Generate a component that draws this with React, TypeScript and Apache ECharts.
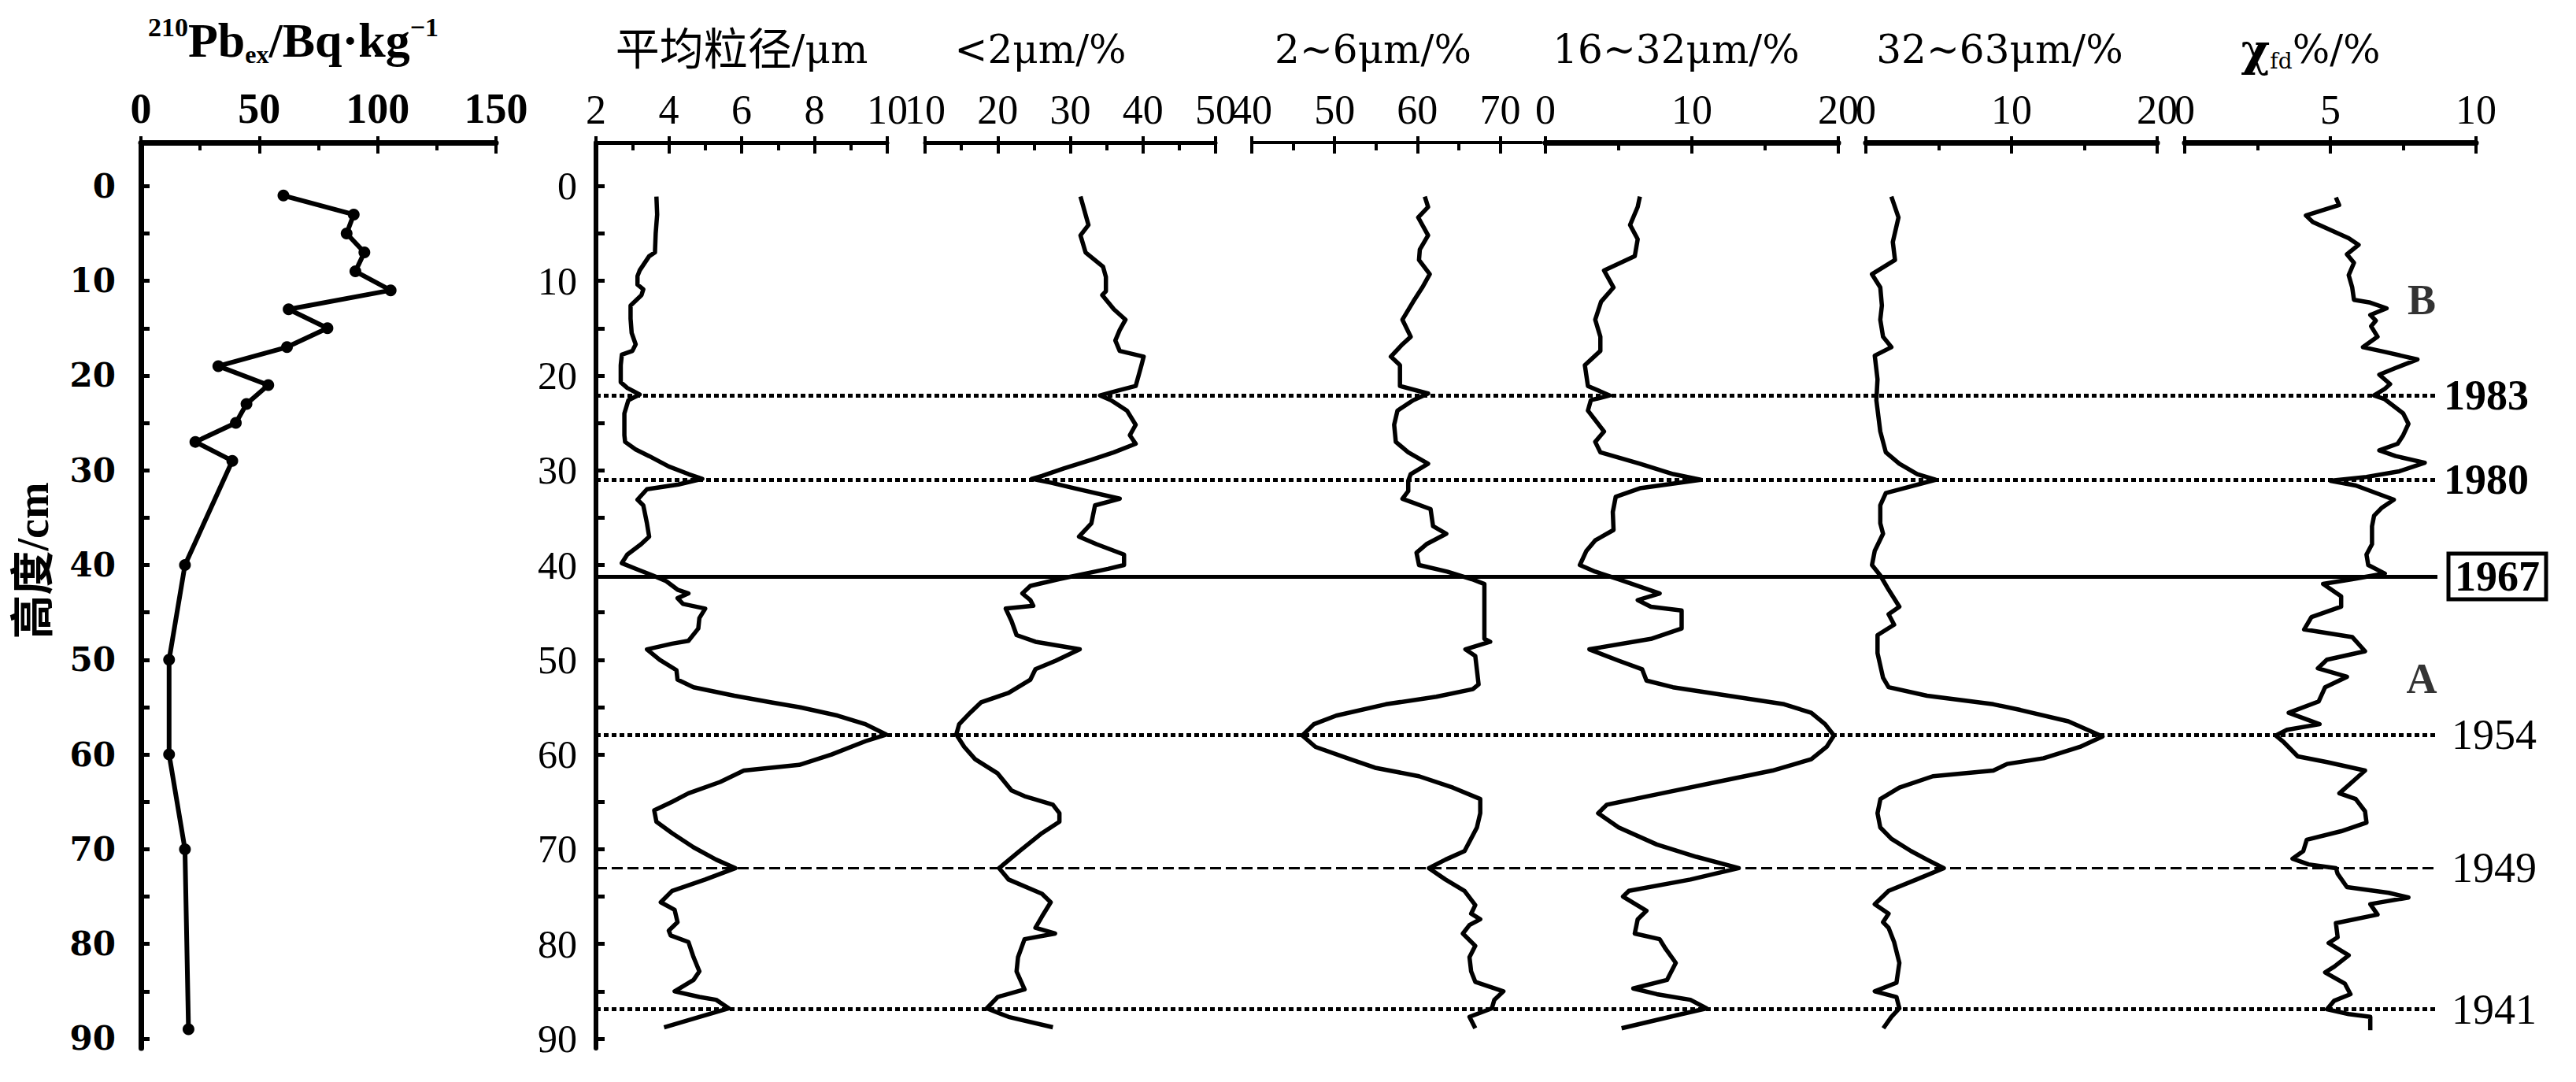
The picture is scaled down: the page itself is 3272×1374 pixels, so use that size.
import React, { useEffect, useRef } from "react";
import * as echarts from "echarts";

const SERIF = "'Liberation Serif', 'Noto Sans CJK SC', serif";
const WIDE_SERIF = "'DejaVu Serif', 'Noto Sans CJK SC', serif";

// ---------- depth axis ----------
const depthTickValues = [0, 5, 10, 15, 20, 25, 30, 35, 40, 45, 50, 55, 60, 65, 70, 75, 80, 85, 90];
const depthLabelValues = [0, 10, 20, 30, 40, 50, 60, 70, 80, 90];

// ---------- 210Pb_ex ----------
const pbDepth = [1, 3, 5, 7, 9, 11, 13, 15, 17, 19, 21, 23, 25, 27, 29, 40, 50, 60, 70, 89];
const pbValue = [60.2, 89.9, 86.9, 94.4, 90.6, 105.5, 62.4, 78.8, 61.7, 32.7, 53.8, 44.6, 40.1, 23.0, 38.6, 18.6, 11.9, 11.9, 18.6, 20.1];
const pbTicks = [0, 50, 100, 150];
const pbMinor = [25, 75, 125];

// ---------- mean grain size (um) ----------
const mgDepth = [1.1, 3.0, 5.0, 7.0, 7.4, 8.9, 9.5, 10.4, 10.9, 11.5, 12.6, 14.0, 15.5, 16.7, 17.4, 17.8, 18.9, 20.7, 21.3, 22.0, 22.6, 24.0, 26.3, 27.0, 27.8, 28.5, 29.6, 30.4, 30.9, 31.5, 32.0, 33.1, 33.7, 35.6, 37.0, 37.8, 38.9, 39.8, 40.4, 41.1, 41.7, 42.6, 43.0, 43.5, 44.1, 44.6, 45.6, 46.7, 48.0, 48.3, 48.9, 50.0, 51.1, 52.1, 52.9, 53.8, 54.5, 55.0, 55.9, 56.8, 57.9, 58.6, 60.0, 61.1, 61.7, 62.9, 64.1, 65.0, 65.9, 67.1, 68.3, 69.8, 71.1, 72.0, 73.2, 74.4, 75.6, 76.4, 77.7, 78.6, 79.1, 79.8, 81.4, 82.9, 83.8, 85.0, 85.6, 85.9, 86.8, 87.7, 88.8];
const mgValue = [3.66, 3.68, 3.64, 3.62, 3.46, 3.2, 3.14, 3.14, 3.3, 3.25, 2.95, 2.95, 2.98, 3.09, 3.0, 2.71, 2.68, 2.68, 2.86, 3.2, 2.89, 2.78, 2.78, 2.8, 3.09, 3.46, 4.0, 4.54, 4.92, 4.26, 3.4, 3.14, 3.3, 3.4, 3.46, 3.24, 2.86, 2.71, 3.09, 3.56, 3.93, 4.24, 4.54, 4.24, 4.39, 5.0, 4.84, 4.81, 4.54, 4.09, 3.4, 3.75, 4.21, 4.24, 4.68, 5.8, 6.82, 7.58, 8.64, 9.4, 9.97, 9.4, 8.47, 7.58, 6.06, 5.41, 4.54, 4.09, 3.6, 3.66, 4.09, 4.68, 5.3, 5.83, 5.0, 4.09, 3.78, 4.16, 4.24, 4.0, 4.05, 4.54, 4.68, 4.84, 4.68, 4.16, 4.84, 5.3, 5.65, 4.84, 3.87];
const mgTicks = [2, 4, 6, 8, 10];
const mgMinor = [3, 5, 7, 9];

// ---------- <2 um (%) ----------
const clayDepth = [1.1, 4.1, 5.2, 7.0, 8.5, 9.6, 11.1, 11.5, 13.0, 14.1, 15.2, 16.3, 17.4, 18.0, 18.9, 21.1, 21.6, 22.1, 22.6, 23.7, 25.2, 26.3, 27.2, 28.1, 28.9, 29.8, 30.6, 30.9, 31.3, 31.9, 33.0, 33.7, 35.6, 37.0, 37.8, 38.9, 40.0, 40.4, 40.9, 41.5, 42.2, 43.0, 43.7, 44.3, 44.6, 45.9, 47.4, 48.1, 48.9, 50.1, 51.0, 52.1, 53.5, 54.5, 55.6, 56.8, 57.9, 59.2, 60.5, 62.0, 63.8, 64.4, 65.3, 66.2, 67.1, 68.3, 70.2, 72.0, 73.2, 74.7, 75.6, 77.1, 78.3, 78.9, 79.5, 81.4, 82.9, 84.8, 85.6, 86.8, 87.7, 88.8];
const clayValue = [31.4, 32.5, 31.4, 32.1, 34.5, 34.9, 34.9, 34.4, 36.0, 37.6, 36.8, 36.2, 36.8, 40.1, 39.8, 39.0, 36.5, 34.1, 35.6, 37.8, 39.0, 38.2, 39.0, 36.0, 32.9, 29.1, 26.1, 24.7, 27.3, 30.6, 36.8, 33.4, 32.9, 31.2, 33.6, 37.4, 37.4, 35.2, 32.1, 28.4, 24.5, 23.4, 24.5, 24.9, 21.1, 21.9, 22.6, 25.2, 31.3, 28.0, 25.2, 24.5, 21.5, 17.7, 16.2, 14.7, 14.3, 15.4, 16.9, 20.0, 21.9, 23.7, 27.6, 28.5, 28.5, 26.1, 23.0, 20.2, 21.5, 26.1, 27.3, 26.1, 25.2, 27.9, 23.7, 22.8, 22.6, 23.7, 20.0, 18.5, 21.5, 27.6];
const clayTicks = [10, 20, 30, 40, 50];
const clayMinor = [15, 25, 35, 45];

// ---------- 2~6 um (%) ----------
const fsDepth = [1.1, 2.2, 3.3, 5.2, 6.7, 7.8, 9.3, 10.7, 12.2, 14.1, 15.9, 16.7, 18.0, 18.9, 21.1, 21.9, 22.6, 23.7, 25.2, 27.0, 28.1, 29.3, 30.4, 31.1, 32.2, 33.0, 34.1, 35.9, 36.7, 37.8, 38.7, 40.0, 40.7, 41.5, 42.0, 44.8, 47.8, 48.1, 48.9, 49.6, 51.1, 52.6, 53.1, 53.9, 54.7, 55.9, 56.8, 58.0, 59.2, 60.5, 61.4, 62.3, 63.5, 64.7, 66.2, 67.7, 70.2, 71.1, 72.0, 73.2, 74.4, 75.9, 76.8, 77.4, 78.0, 78.9, 80.2, 81.4, 82.9, 84.0, 85.0, 85.9, 86.8, 87.7, 88.9];
const fsValue = [60.9, 61.3, 60.1, 61.3, 60.3, 60.2, 61.5, 60.6, 59.5, 58.2, 59.2, 58.2, 56.8, 57.9, 57.9, 61.3, 59.5, 57.6, 57.2, 57.4, 58.9, 61.3, 59.2, 58.9, 58.9, 58.2, 61.6, 61.9, 63.5, 61.1, 59.9, 60.2, 63.6, 66.6, 68.1, 68.1, 68.1, 68.8, 65.8, 67.0, 67.2, 67.4, 66.7, 62.3, 56.2, 50.2, 47.5, 46.1, 47.7, 51.9, 54.9, 60.2, 64.3, 67.6, 67.6, 67.2, 65.7, 63.4, 61.4, 63.4, 65.7, 67.0, 66.5, 67.6, 66.3, 65.5, 67.0, 66.3, 66.5, 67.0, 70.4, 69.3, 69.0, 66.3, 67.0];
const fsTicks = [40, 50, 60, 70];
const fsMinor = [45, 55, 65];

// ---------- 16~32 um (%) ----------
const msDepth = [1.1, 2.2, 4.1, 5.6, 7.4, 8.9, 10.7, 12.2, 14.1, 15.9, 17.4, 18.9, 21.1, 22.1, 22.6, 23.7, 25.9, 27.0, 28.1, 29.3, 30.4, 31.0, 31.9, 32.8, 34.4, 36.3, 37.4, 38.5, 40.0, 40.7, 41.5, 43.0, 43.7, 44.4, 44.8, 46.7, 47.8, 48.9, 50.1, 51.0, 52.2, 52.9, 53.8, 54.7, 55.6, 56.8, 58.0, 59.2, 60.5, 61.7, 62.9, 64.1, 65.3, 66.2, 67.7, 69.5, 70.8, 72.0, 73.2, 74.4, 75.0, 76.5, 77.4, 78.9, 79.5, 80.5, 82.0, 83.8, 84.7, 85.3, 85.9, 86.8, 87.4, 88.9];
const msValue = [6.45, 6.3, 5.78, 6.3, 6.1, 4.0, 4.65, 3.8, 3.4, 3.75, 3.75, 2.69, 2.9, 4.39, 3.1, 2.9, 4.0, 3.4, 3.75, 6.45, 8.72, 10.6, 6.45, 4.8, 4.6, 4.65, 3.4, 2.8, 2.35, 3.4, 5.0, 7.8, 6.3, 7.2, 9.3, 9.3, 7.2, 3.0, 5.0, 6.6, 6.9, 8.7, 12.5, 16.3, 18.15, 19.1, 19.7, 19.2, 18.15, 15.5, 11.7, 7.96, 4.2, 3.6, 5.0, 7.6, 10.3, 13.2, 9.9, 5.7, 5.3, 6.9, 6.3, 6.1, 7.8, 8.2, 8.9, 8.3, 6.0, 7.6, 9.9, 11.0, 9.3, 5.2];
const msTicks = [0, 10, 20];
const msMinor = [5, 15];

// ---------- 32~63 um (%) ----------
const csDepth = [1.1, 3.3, 5.9, 7.8, 9.3, 10.7, 12.6, 14.1, 15.9, 17.0, 17.9, 20.4, 22.6, 25.9, 28.1, 29.3, 30.4, 31.0, 31.7, 32.4, 33.7, 35.6, 36.7, 38.5, 40.0, 41.1, 42.6, 44.4, 45.2, 46.3, 47.4, 49.3, 51.9, 52.9, 53.8, 54.7, 55.3, 56.5, 58.1, 59.2, 60.4, 61.0, 61.7, 62.3, 63.5, 64.7, 66.2, 67.7, 68.9, 70.2, 71.1, 72.0, 73.2, 74.4, 75.8, 76.8, 77.7, 78.3, 79.8, 82.0, 84.1, 85.0, 85.6, 86.8, 87.7, 88.9];
const csValue = [1.75, 2.24, 1.85, 2.0, 0.42, 0.99, 1.1, 0.99, 1.18, 1.75, 0.61, 0.8, 0.72, 0.99, 1.37, 2.3, 3.53, 4.78, 3.1, 1.37, 0.99, 0.99, 1.18, 0.61, 0.42, 0.99, 1.56, 2.3, 1.56, 1.94, 0.8, 0.8, 1.18, 1.56, 4.2, 8.75, 10.6, 13.9, 16.25, 14.7, 12.2, 9.7, 8.75, 4.6, 2.3, 1.0, 0.8, 0.99, 1.75, 3.1, 4.2, 5.35, 3.47, 1.56, 0.61, 1.56, 1.18, 1.56, 1.94, 2.3, 2.1, 0.61, 2.1, 2.3, 1.75, 1.2];
const csTicks = [0, 10, 20];
const csMinor = [5, 15];

// ---------- chi_fd % ----------
const chiDepth = [1.2, 2.0, 3.1, 3.8, 5.5, 6.2, 7.2, 8.1, 9.4, 10.7, 12.0, 12.3, 12.9, 13.6, 14.2, 14.8, 15.9, 17.0, 17.5, 18.3, 19.2, 19.9, 20.9, 21.4, 22.1, 22.5, 24.0, 25.1, 26.3, 27.2, 27.9, 28.5, 29.2, 30.1, 30.7, 31.1, 31.6, 33.1, 34.0, 34.8, 35.9, 37.8, 38.9, 40.0, 40.9, 41.5, 42.0, 43.3, 44.4, 45.5, 46.8, 47.6, 49.1, 50.0, 50.9, 51.8, 52.9, 54.4, 55.6, 56.8, 57.4, 58.0, 58.7, 60.2, 60.8, 61.7, 62.9, 64.1, 64.7, 66.0, 67.2, 68.1, 69.0, 70.2, 71.0, 71.6, 72.0, 72.6, 74.0, 74.6, 75.1, 75.8, 76.9, 77.8, 79.3, 79.9, 81.2, 82.4, 83.0, 84.2, 85.3, 86.0, 86.9, 87.4, 87.7, 89.1];
const chiValue = [5.19, 5.3, 4.16, 4.4, 5.63, 5.97, 5.57, 5.81, 5.63, 5.75, 5.81, 6.37, 6.93, 6.37, 6.56, 6.4, 6.62, 6.12, 6.87, 7.99, 7.24, 6.68, 7.05, 6.87, 6.5, 6.87, 7.5, 7.68, 7.5, 7.31, 6.68, 7.24, 8.24, 7.37, 6.24, 5.0, 5.87, 7.18, 6.75, 6.5, 6.43, 6.43, 6.24, 6.3, 6.87, 5.75, 4.75, 5.37, 5.37, 4.35, 4.1, 5.75, 6.19, 4.88, 4.57, 5.57, 4.82, 4.6, 3.57, 4.63, 3.51, 3.13, 3.4, 3.88, 4.88, 6.19, 5.75, 5.31, 5.87, 6.19, 6.24, 5.37, 4.19, 4.07, 3.7, 4.25, 5.19, 5.25, 5.57, 7.0, 7.68, 6.37, 6.62, 5.19, 5.25, 4.94, 5.63, 5.13, 4.82, 5.5, 5.69, 5.13, 4.88, 5.63, 6.37, 6.37];
const chiTicks = [0, 5, 10];
const chiMinor = [2.5, 7.5];

// ---------- dated horizons and zones ----------
const eventDepths = [22.1, 31.0, 41.2, 57.9, 72.0, 86.9];
const eventYears = ["1983", "1980", "1967", "1954", "1949", "1941"];
const zoneNames = ["B", "A"];
const zoneDepths = [12.0, 52.0];

// ---------- layout ----------
const TOP = 181;
const HEIGHT = 1150;
const DMIN = -4.6;
const DMAX = 91;

type Panel = {
  left: number; width: number; min: number; max: number;
  ticks: number[]; minor: number[]; depths: number[]; values: number[];
  name: string; namePad: number[]; axisWidth: number; boldLabels?: boolean; markers?: boolean;
};

const panels: Panel[] = [
  { left: 179, width: 451, min: 0, max: 150, ticks: pbTicks, minor: pbMinor, depths: pbDepth, values: pbValue,
    name: "{s|210}{b|Pb}{u|ex}{b|/Bq·kg}{s|−1}", namePad: [0, 64, 0, 0], axisWidth: 7, boldLabels: true, markers: true },
  { left: 757, width: 370, min: 2, max: 10, ticks: mgTicks, minor: mgMinor, depths: mgDepth, values: mgValue,
    name: "{k|平均粒径}{t|/μm}", namePad: [0, 0, 0, 0], axisWidth: 5 },
  { left: 1175, width: 369, min: 10, max: 50, ticks: clayTicks, minor: clayMinor, depths: clayDepth, values: clayValue,
    name: "{t|<2μm/%}", namePad: [0, 76, 0, 0], axisWidth: 5 },
  { left: 1590, width: 368, min: 40, max: 75, ticks: fsTicks, minor: fsMinor, depths: fsDepth, values: fsValue,
    name: "{t|2~6μm/%}", namePad: [0, 60, 0, 0], axisWidth: 4 },
  { left: 1963, width: 372, min: 0, max: 20, ticks: msTicks, minor: msMinor, depths: msDepth, values: msValue,
    name: "{t|16~32μm/%}", namePad: [0, 40, 0, 0], axisWidth: 7 },
  { left: 2370, width: 370, min: 0, max: 20, ticks: csTicks, minor: csMinor, depths: csDepth, values: csValue,
    name: "{t|32~63μm/%}", namePad: [0, 30, 0, 0], axisWidth: 7 },
  { left: 2775, width: 370, min: 0, max: 10, ticks: chiTicks, minor: chiMinor, depths: chiDepth, values: chiValue,
    name: "{c|χ}{u2|fd}{t|%/%}", namePad: [0, 50, 0, 0], axisWidth: 7 },
];

const OVERLAY_LEFT = 757;
const OVERLAY_RIGHT = 3096;

const richStyles = {
  b: { fontSize: 62, fontWeight: "bold", fontFamily: SERIF, color: "#000", lineHeight: 68, verticalAlign: "middle" },
  s: { fontSize: 34, fontWeight: "bold", fontFamily: SERIF, color: "#000", lineHeight: 44, verticalAlign: "top" },
  u: { fontSize: 32, fontWeight: "bold", fontFamily: SERIF, color: "#000", lineHeight: 18, verticalAlign: "bottom" },
  t: { fontSize: 50, fontFamily: WIDE_SERIF, color: "#000", lineHeight: 56, verticalAlign: "middle" },
  k: { fontSize: 56, fontFamily: SERIF, color: "#000", lineHeight: 56, verticalAlign: "middle" },
  c: { fontSize: 56, fontWeight: "bold", fontFamily: WIDE_SERIF, color: "#000", lineHeight: 56, verticalAlign: "middle" },
  u2: { fontSize: 28, fontFamily: WIDE_SERIF, color: "#000", lineHeight: 8, verticalAlign: "bottom" },
};

function buildOption() {
  const grids: any[] = [];
  const xAxes: any[] = [];
  const yAxes: any[] = [];
  const series: any[] = [];

  panels.forEach((p, i) => {
    grids.push({ left: p.left, top: TOP, width: p.width, height: HEIGHT, outerBoundsMode: "none", containLabel: false });
    const common = { type: "value", gridIndex: i, position: "top", min: p.min, max: p.max, splitLine: { show: false } };
    xAxes.push({
      ...common,
      axisLine: { show: true, onZero: false, lineStyle: { color: "#000", width: p.axisWidth } },
      axisTick: { show: true, inside: true, length: 14, customValues: p.ticks, lineStyle: { color: "#000", width: 4 } },
      axisLabel: {
        show: true, customValues: p.ticks, margin: 16, hideOverlap: false,
        color: "#000", fontSize: p.boldLabels ? 54 : 52, fontFamily: SERIF, fontWeight: p.boldLabels ? "bold" : "normal",
        formatter: (v: number) => String(v),
      },
      name: p.name, nameLocation: "middle", nameGap: i === 0 ? 96 : 90,
      nameTextStyle: { rich: richStyles, padding: p.namePad, color: "#000" },
    });
    xAxes.push({
      ...common,
      axisLine: { show: false, onZero: false },
      axisTick: { show: true, inside: true, length: 10, customValues: p.minor, lineStyle: { color: "#000", width: 4 } },
      axisLabel: { show: false },
    });
    xAxes.push({
      ...common,
      axisLine: { show: false, onZero: false },
      axisTick: { show: true, inside: false, length: 8, customValues: p.ticks, lineStyle: { color: "#000", width: 4 } },
      axisLabel: { show: false },
    });

    const showY = i <= 1;
    yAxes.push({
      type: "value", gridIndex: i, inverse: true, min: DMIN, max: DMAX, position: "left", show: showY,
      splitLine: { show: false },
      axisLine: { show: true, onZero: false, lineStyle: { color: "#000", width: i === 0 ? 7 : 6 } },
      axisTick: { show: true, inside: true, length: 11, customValues: depthTickValues, lineStyle: { color: "#000", width: 5 } },
      axisLabel: {
        show: true, customValues: depthLabelValues, margin: i === 0 ? 32 : 24, hideOverlap: false, color: "#000",
        fontSize: i === 0 ? 42 : 50, fontWeight: i === 0 ? "bold" : "normal", fontFamily: i === 0 ? WIDE_SERIF : SERIF,
        formatter: (v: number) => String(v),
      },
    });

    series.push({
      type: "line", xAxisIndex: 3 * i, yAxisIndex: i,
      data: p.values.map((v, k) => [v, p.depths[k]]),
      showSymbol: !!p.markers, symbol: "circle", symbolSize: p.markers ? 15 : 0,
      lineStyle: { color: "#000", width: p.markers ? 6 : 5.5, join: "round" },
      itemStyle: { color: "#000" },
      silent: true, clip: false,
    });
  });

  // overlay grid for horizons
  const gi = panels.length;
  grids.push({ left: OVERLAY_LEFT, top: TOP, width: OVERLAY_RIGHT - OVERLAY_LEFT, height: HEIGHT, outerBoundsMode: "none", containLabel: false });
  xAxes.push({ type: "value", gridIndex: gi, min: 0, max: 1, show: false, axisLine: { onZero: false } });
  yAxes.push({ type: "value", gridIndex: gi, inverse: true, min: DMIN, max: DMAX, show: false, axisLine: { onZero: false } });

  const dotted = { color: "#000", width: 5, type: [6, 4] };
  const lineStyles = [dotted, dotted, { color: "#000", width: 5, type: "solid" }, dotted, { color: "#000", width: 3, type: [14, 6] }, dotted];
  const labelBase = { show: true, position: "end", distance: 10, color: "#000", fontSize: 54, fontFamily: SERIF };

  series.push({
    type: "scatter", xAxisIndex: 3 * gi, yAxisIndex: gi,
    symbol: "circle", symbolSize: 1, itemStyle: { color: "rgba(0,0,0,0)" },
    data: zoneNames.map((n, k) => ({ value: [0.9915, zoneDepths[k]], name: n })),
    label: { show: true, position: "inside", formatter: (p: any) => p.name, color: "#000", fontSize: 54, fontFamily: SERIF, fontWeight: "bold" },
    silent: true,
    markLine: {
      silent: true, symbol: ["none", "none"], animation: false,
      data: eventDepths.map((d, k) => ({
        yAxis: d,
        lineStyle: lineStyles[k],
        label: k === 2
          ? { ...labelBase, formatter: eventYears[k], fontWeight: "bold", borderColor: "#000", borderWidth: 5, padding: [4, 8, 0, 8], distance: 14 }
          : { ...labelBase, formatter: eventYears[k], fontWeight: k < 2 ? "bold" : "normal", distance: k < 2 ? 8 : 18 },
      })),
    },
  });

  return {
    animation: false,
    backgroundColor: "#fff",
    grid: grids,
    xAxis: xAxes,
    yAxis: yAxes,
    series,
    graphic: [
      {
        type: "text", x: 42, y: 712, rotation: Math.PI / 2,
        style: { text: "高度/cm", fill: "#000", font: `bold 56px ${SERIF}`, align: "center", verticalAlign: "middle" },
      },
    ],
  };
}

export default function App() {
  const ref = useRef<HTMLDivElement>(null);
  useEffect(() => {
    document.body.style.margin = "0";
    const chart = echarts.init(ref.current!, undefined, { renderer: "svg", width: 3272, height: 1374 });
    chart.setOption(buildOption() as any);
    return () => chart.dispose();
  }, []);
  return <div ref={ref} style={{ position: "fixed", left: 0, top: 0, width: 3272, height: 1374, background: "#fff" }} />;
}
